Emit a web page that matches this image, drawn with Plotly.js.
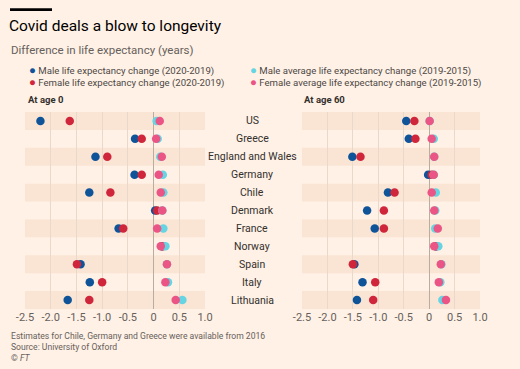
<!DOCTYPE html>
<html>
<head>
<meta charset="utf-8">
<script src="https://cdn.plot.ly/plotly-3.0.1.min.js"></script>
<style>
html,body{margin:0;padding:0;background:#FFF1E5;}
#chart{width:520px;height:369px;}
</style>
</head>
<body>
<div id="chart"></div>
<script>
// ---- data ----
var countries = ["US","Greece","England and Wales","Germany","Chile","Denmark","France","Norway","Spain","Italy","Lithuania"];

// At age 0
var male0      = [-2.20, -0.36, -1.13, -0.37, -1.25, 0.03, -0.68, 0.16, -1.42, -1.24, -1.67];
var female0    = [-1.63, -0.23, -0.90, -0.23, -0.84, 0.07, -0.59, 0.18, -1.49, -1.00, -1.25];
var maleAvg0   = [0.06, 0.08, 0.13, 0.18, 0.19, 0.17, 0.19, 0.23, 0.26, 0.28, 0.56];
var femaleAvg0 = [0.12, 0.05, 0.16, 0.10, 0.14, 0.17, 0.07, 0.14, 0.26, 0.23, 0.43];

// At age 60
var male60      = [-0.45, -0.40, -1.51, -0.02, -0.81, -1.22, -1.07, 0.13, -1.47, -1.31, -1.42];
var female60    = [-0.29, -0.27, -1.35, 0.05, -0.68, -0.89, -0.89, 0.14, -1.50, -1.06, -1.10];
var maleAvg60   = [0.01, 0.09, 0.10, 0.09, 0.13, 0.12, 0.12, 0.18, 0.24, 0.22, 0.26];
var femaleAvg60 = [0.01, 0.05, 0.10, 0.09, 0.05, 0.10, 0.17, 0.10, 0.23, 0.19, 0.33];

var seriesNames = ["Male life expectancy change (2020-2019)",
                   "Female life expectancy change (2020-2019)",
                   "Male average life expectancy change (2019-2015)",
                   "Female average life expectancy change (2019-2015)"];
var tickVals = [-2.5, -2.0, -1.5, -1.0, -0.5, 0, 0.5, 1.0];
var tickText = ["-2.5", "-2.0", "-1.5", "-1.0", "-0.5", "0", "0.5", "1.0"];

// ---- styling ----
var W = 520, H = 369;
var colors = ["#0f5499", "#d0263b", "#66d5e3", "#eb5585"];
var FONT = "Roboto, 'Open Sans', sans-serif";
var px = function(v){ return v / W; };
var py = function(v){ return 1 - v / H; };

var panels = [
  {xa: "x",  ya: "y",  vals: [male0, female0, maleAvg0, femaleAvg0]},
  {xa: "x2", ya: "y2", vals: [male60, female60, maleAvg60, femaleAvg60]}
];

var traces = [];
panels.forEach(function(p){
  for (var s = 0; s < 4; s++) {
    traces.push({
      type: "scatter", mode: "markers",
      name: seriesNames[s],
      x: p.vals[s], y: countries,
      xaxis: p.xa, yaxis: p.ya,
      showlegend: false,
      marker: {color: colors[s], size: 8.5, line: {width: 0}},
      hoverinfo: "skip"
    });
  }
});

var shapes = [];
panels.forEach(function(p){
  for (var i = 0; i < countries.length; i += 2) {
    shapes.push({type: "rect", xref: p.xa + " domain", yref: p.ya,
      x0: 0, x1: 1, y0: i - 0.5, y1: i + 0.5,
      fillcolor: "#fae4d3", line: {width: 0}, layer: "below"});
  }
});
// FT header bar
shapes.push({type: "rect", xref: "paper", yref: "paper",
  x0: px(10), x1: px(52), y0: py(11), y1: py(8.3),
  fillcolor: "#000000", line: {width: 0}});

var xaxisBase = {
  range: [-2.5, 1.0], tickvals: tickVals, ticktext: tickText,
  showgrid: true, gridcolor: "#e9d9cb", gridwidth: 1,
  zeroline: true, zerolinecolor: "#b9aca1", zerolinewidth: 1,
  showline: false, ticks: "",
  tickfont: {family: FONT, size: 11, color: "#66605c"},
  fixedrange: true
};
var yaxisBase = {
  type: "category", categoryorder: "array", categoryarray: countries,
  range: [10.5, -0.5], showgrid: false, zeroline: false,
  showticklabels: false, ticks: "", showline: false,
  domain: [1 - 309/H, 1 - 112/H], fixedrange: true
};

var annotations = [];
countries.forEach(function(c){
  annotations.push({xref: "paper", yref: "y", x: px(252), y: c,
    text: c, showarrow: false, xanchor: "center", yanchor: "middle",
    font: {family: FONT, size: 10.5, color: "#33302e"}});
});
annotations.push({xref: "paper", yref: "paper", x: px(26), y: py(100),
  text: "<b>At age 0</b>", showarrow: false, xanchor: "left", yanchor: "middle",
  font: {family: FONT, size: 9.5, color: "#33302e"}});
annotations.push({xref: "paper", yref: "paper", x: px(302), y: py(100),
  text: "<b>At age 60</b>", showarrow: false, xanchor: "left", yanchor: "middle",
  font: {family: FONT, size: 9.5, color: "#33302e"}});
annotations.push({xref: "paper", yref: "paper", x: px(9), y: py(50),
  text: "Difference in life expectancy (years)", showarrow: false,
  xanchor: "left", yanchor: "middle",
  font: {family: FONT, size: 11.5, color: "#66605c"}});

// legend (as text entries, two columns of two rows)
function legEntry(s){
  return '<span style="color:' + colors[s] + ';font-size:11.5px">●</span> ' + seriesNames[s];
}
var legCols = [[0, 1, 27], [2, 3, 248]];
legCols.forEach(function(c){
  annotations.push({xref: "paper", yref: "paper", x: px(c[2]), y: py(75.5),
    text: legEntry(c[0]) + "<br>" + legEntry(c[1]),
    showarrow: false, xanchor: "left", yanchor: "middle", align: "left",
    font: {family: FONT, size: 9.6, color: "#4d4845"}});
});

// footer
var footer = ["Estimates for Chile, Germany and Greece were available from 2016",
              "Source: University of Oxford", "© <i>FT</i>"];
annotations.push({xref: "paper", yref: "paper", x: px(9), y: py(347),
  text: footer.join("<br>"), showarrow: false, xanchor: "left", yanchor: "middle",
  align: "left",
  font: {family: FONT, size: 8.6, color: "#66605c"}});

var layout = {
  width: W, height: H,
  margin: {l: 0, r: 0, t: 0, b: 0, pad: 0},
  paper_bgcolor: "#FFF1E5", plot_bgcolor: "rgba(0,0,0,0)",
  showlegend: false,
  title: {text: "Covid deals a blow to longevity", x: px(9), xanchor: "left",
          y: py(26), yanchor: "middle", yref: "container",
          font: {family: FONT, size: 15.5, color: "#000000"}},
  xaxis: Object.assign({}, xaxisBase, {domain: [px(25), px(205)], anchor: "y"}),
  xaxis2: Object.assign({}, xaxisBase, {domain: [px(302), px(480)], anchor: "y2"}),
  yaxis: Object.assign({}, yaxisBase, {anchor: "x"}),
  yaxis2: Object.assign({}, yaxisBase, {anchor: "x2"}),
  shapes: shapes,
  annotations: annotations
};

Plotly.newPlot("chart", traces, layout, {staticPlot: true, displayModeBar: false});
</script>
</body>
</html>
